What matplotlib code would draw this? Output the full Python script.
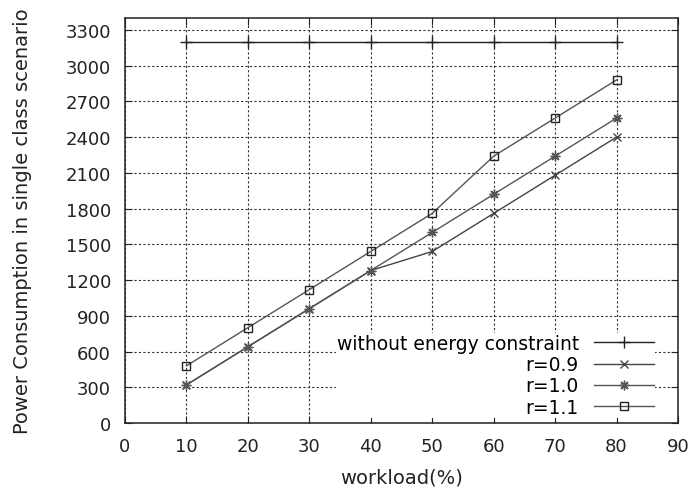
import matplotlib
matplotlib.use("Agg")
import matplotlib.pyplot as plt

workload = [10, 20, 30, 40, 50, 60, 70, 80]
no_constraint = [3200, 3200, 3200, 3200, 3200, 3200, 3200, 3200]
r09 = [320, 640, 960, 1280, 1440, 1760, 2080, 2400]
r10 = [320, 640, 960, 1280, 1600, 1920, 2240, 2560]
r11 = [480, 800, 1120, 1440, 1760, 2240, 2560, 2880]

xticks = list(range(0, 91, 10))
yticks = list(range(0, 3301, 300))

plt.rcParams["font.family"] = ["DejaVu Sans"]

fig = plt.figure(figsize=(6.93, 4.89), dpi=100)
ax = fig.add_axes([125 / 693, 1 - 424 / 489, 553 / 693, 405 / 489])

ax.plot(workload, no_constraint, color="#222222", lw=1.0, marker="+", ms=9,
        mew=1.0, label="without energy constraint")
ax.plot(workload, r09, color="#444444", lw=1.0, marker="x", ms=5.5,
        mew=1.0, label="r=0.9")
ax.plot(workload, r10, color="#555555", lw=1.0, marker=(8, 2, 0), ms=7,
        mew=1.0, label="r=1.0")
ax.plot(workload, r11, color="#555555", lw=1.0, marker="s", ms=6,
        mfc="none", mec="#222222", mew=1.0, label="r=1.1")

ax.set_xlim(0, 90)
ax.set_ylim(0, 3400)
ax.set_xticks(xticks)
ax.set_yticks(yticks)
ax.grid(True, color="#333333", linestyle=(0, (2, 2)), linewidth=0.8)
ax.tick_params(direction="in", length=5, top=True, right=True,
               labelsize=13, pad=10, colors="#222222")
for s in ax.spines.values():
    s.set_linewidth(1.1)
    s.set_color("#222222")
    s.set_zorder(6)  # keep the frame on top of the opaque key

ax.set_xlabel("workload(%)", fontsize=14, labelpad=9, color="#222222")
ax.set_ylabel("Power Consumption in single class scenario", fontsize=14,
              labelpad=24, color="#222222")

leg = ax.legend(loc="lower right", bbox_to_anchor=(0.975, -0.01),
                markerfirst=False, fontsize=13.5, handlelength=3.2,
                handletextpad=0.8, labelspacing=0.12, borderpad=0.05,
                frameon=True, fancybox=False)
leg.get_frame().set_facecolor("white")
leg.get_frame().set_edgecolor("none")
leg.get_frame().set_alpha(1.0)

fig.savefig("out.png", dpi=100)
